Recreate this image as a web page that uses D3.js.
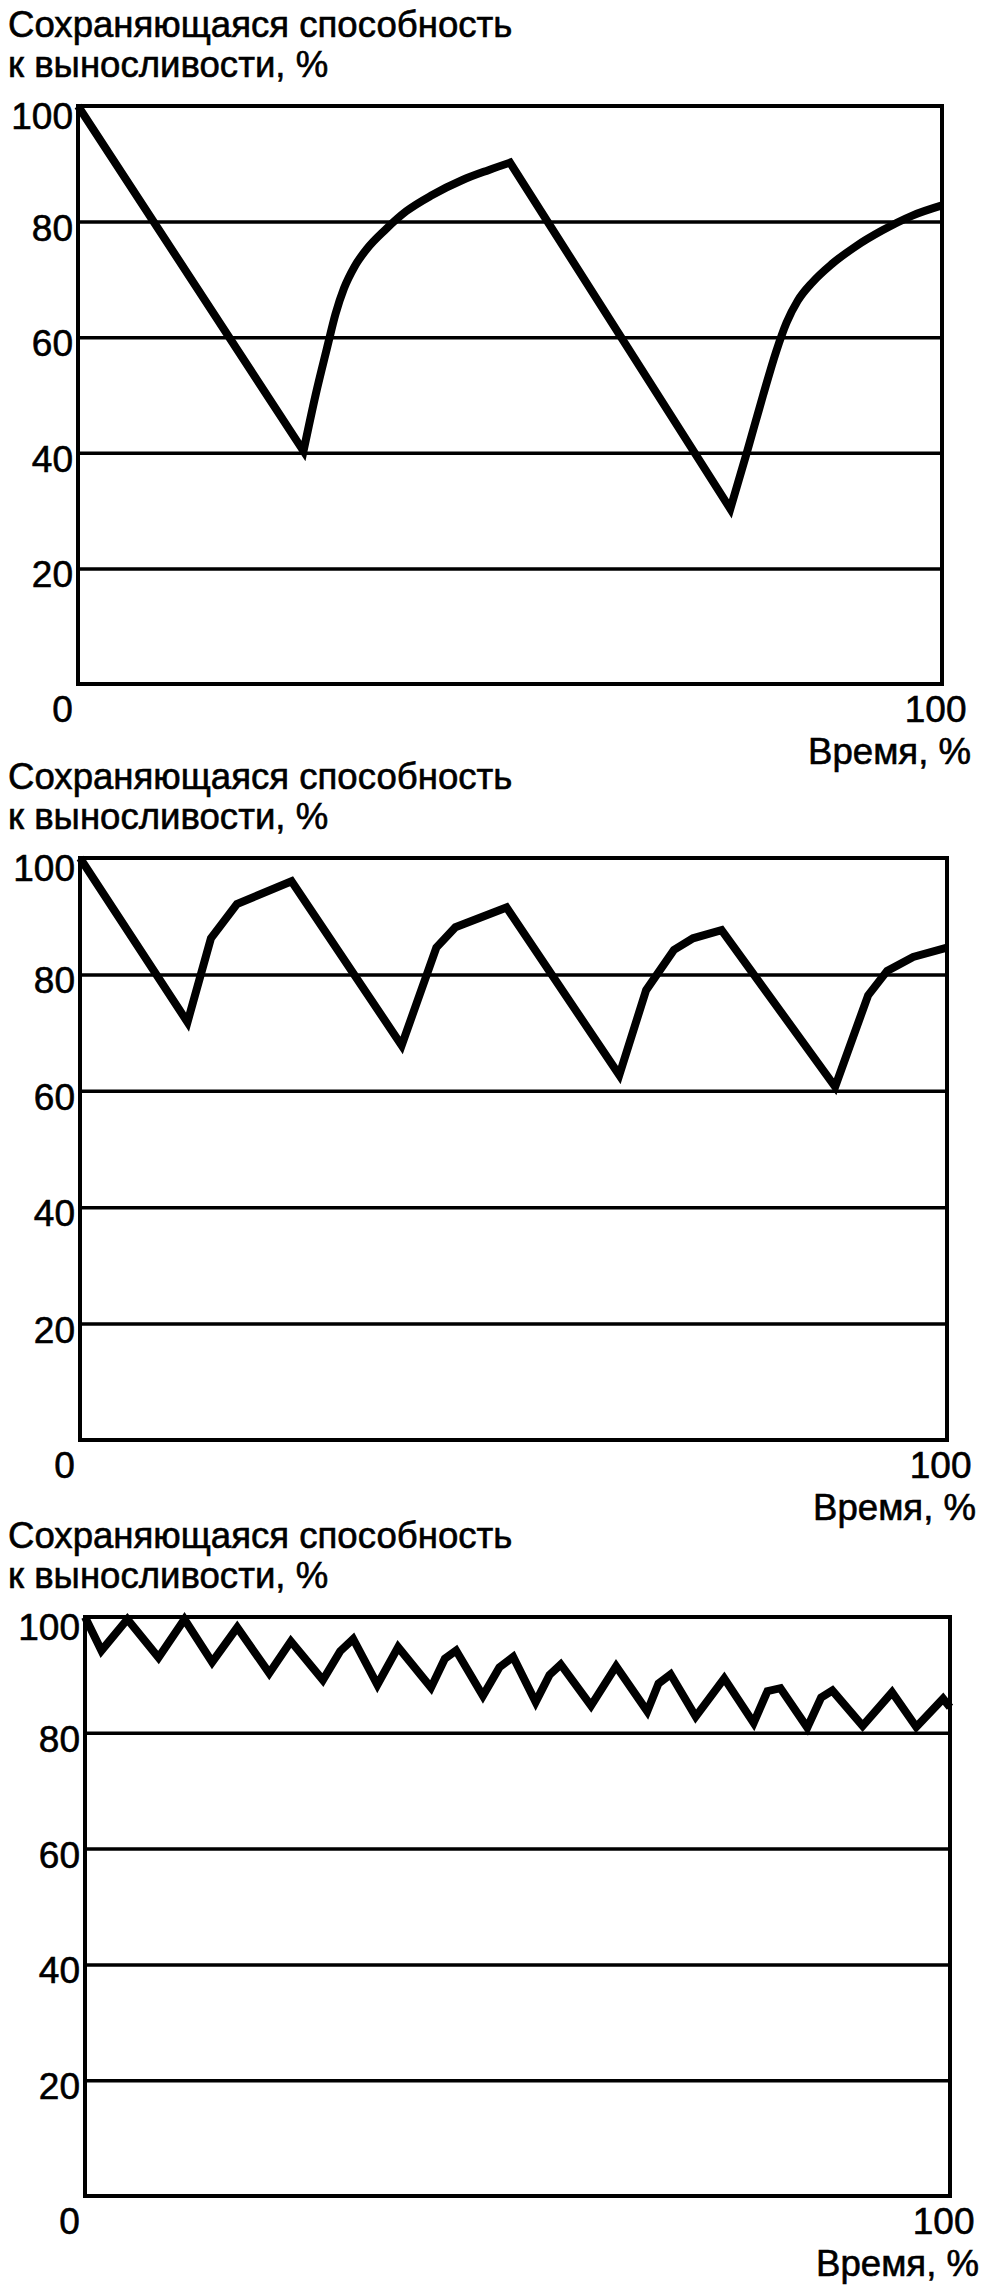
<!DOCTYPE html>
<html>
<head>
<meta charset="utf-8">
<script src="https://cdn.jsdelivr.net/npm/d3@7"></script>
<style>
    html, body { margin: 0; padding: 0; background: #fff; }
    svg { display: block; }
</style>
</head>
<body>
<div id="chart"></div>
<script>
(function(){
    'use strict';

    // tick labels / text
    var capacityTicks = [20, 40, 60, 80, 100];
    var gridValues = [20, 40, 60, 80];
    var timeTicks = [0, 100];
    var titleLines = ["Сохраняющаяся способность", "к выносливости, %"];
    var timeLabel = "Время, %";

    // panel 1: two long work phases, each followed by a recovery curve
    var p1Drop1 = [[0, 100], [26.1, 40.3]];
    var p1Rise1 = [[26.1, 40.3], [27.5, 50], [28.8, 58], [29.8, 64], [30.8, 68.5], [32, 72.2], [33.5, 75.4], [35.5, 78.5],
        [38, 81.8], [41, 84.6], [44.5, 87.2], [47.5, 88.9], [50, 90.2]];
    var p1Drop2 = [[50, 90.2], [75.5, 30.3]];
    var p1Rise2 = [[75.5, 30.3], [77.4, 40], [79.3, 50], [80.8, 57.5], [82, 62.5], [83.3, 66.3], [85, 69.5], [87.2, 72.6],
        [90, 75.7], [93, 78.4], [96.5, 81], [100, 82.8]];

    // panel 2: four shorter work phases
    var p2Line = [[0, 100], [12.4, 71.8], [15.1, 86.2], [18.1, 92.1], [24.4, 96], [37.1, 67.8], [41.1, 84.6], [43.3, 88.1],
        [49.2, 91.5], [62.2, 62.7], [65.3, 77.3], [68.5, 84.2], [70.7, 86.2], [74, 87.6], [87.1, 60.7], [90.9, 76.4],
        [93.1, 80.6], [96.1, 83], [100, 84.6]];

    // panel 3: many short work phases
    var p3Line = [[0, 100], [1.9, 94.2], [4.9, 99.6], [8.5, 93], [11.5, 99.6], [14.7, 92.2], [17.6, 98.2], [21.3, 90.3],
        [23.8, 95.8], [27.5, 89.1], [29.5, 94.1], [31, 96.2], [33.8, 88.3], [36.2, 94.8], [40, 87.8], [41.6, 92.8],
        [42.9, 94.2], [46, 86.4], [47.9, 91.3], [49.5, 93.1], [52.1, 85.3], [53.7, 90], [55, 91.8], [58.5, 84.7],
        [61.4, 91.5], [65, 83.7], [66.3, 88.5], [67.7, 90.1], [70.6, 82.8], [73.9, 89.4], [77.3, 81.7], [78.9, 87.2],
        [80.4, 87.7], [83.5, 80.9], [85.1, 86.1], [86.4, 87.3], [89.9, 81.2], [93.3, 87], [96.1, 81], [99.2, 85.9],
        [100, 84.4]];

    var panels = [
        {left: 78, right: 942, top: 106, bottom: 684,
            parts: [[p1Drop1, d3.curveLinear], [p1Rise1, d3.curveMonotoneX], [p1Drop2, d3.curveLinear], [p1Rise2, d3.curveMonotoneX]]},
        {left: 80, right: 947, top: 858, bottom: 1440, parts: [[p2Line, d3.curveLinear]]},
        {left: 85, right: 950, top: 1617, bottom: 2196, parts: [[p3Line, d3.curveLinear]]}
    ];

    var font = "'Liberation Sans', Arial, Helvetica, sans-serif";

    var svg = d3.select("#chart")
        .append("svg")
        .attr("width", 991)
        .attr("height", 2286)
        .attr("font-family", font);

    // scanned print looks a bit heavier than plain regular weight
    function inked(sel) {
        sel.attr("fill", "#000").attr("stroke", "#000").attr("stroke-width", 0.6);
    }

    panels.forEach(function(p) {
        var x = d3.scaleLinear().domain([0, 100]).range([p.left, p.right]);
        var y = d3.scaleLinear().domain([0, 100]).range([p.bottom, p.top]);
        var g = svg.append("g");

        // title (two lines)
        g.append("g").selectAll("text").data(titleLines).enter()
            .append("text")
            .attr("x", 8)
            .attr("y", function(d, i) { return p.top - 69 + i * 40; })
            .attr("font-size", 36.6)
            .call(inked)
            .text(function(d) { return d; });

        // horizontal grid lines
        g.append("g")
            .attr("transform", "translate(" + p.left + ",0)")
            .call(d3.axisLeft(y).tickValues(gridValues).tickSize(-(p.right - p.left)).tickFormat(""))
            .call(function(a) {
                a.select(".domain").remove();
                a.selectAll("line").attr("stroke", "#000").attr("stroke-width", 3.5);
            });

        // y labels
        g.append("g")
            .attr("transform", "translate(" + p.left + ",0)")
            .call(d3.axisLeft(y).tickValues(capacityTicks).tickSize(0).tickPadding(5))
            .call(function(a) {
                a.select(".domain").remove();
                a.selectAll("text")
                    .attr("font-family", font)
                    .attr("font-size", 37)
                    .call(inked)
                    .attr("dy", function(d) { return d === 100 ? "0.62em" : "0.5em"; });
            });

        // x labels
        g.append("g")
            .attr("transform", "translate(0," + p.bottom + ")")
            .call(d3.axisBottom(x).tickValues(timeTicks).tickSize(0).tickPadding(12))
            .call(function(a) {
                a.select(".domain").remove();
                a.selectAll("text")
                    .attr("font-family", font)
                    .attr("font-size", 37)
                    .call(inked)
                    .attr("text-anchor", function(d) { return d === 0 ? "middle" : "end"; })
                    .attr("x", function(d) { return d === 0 ? -16 : 24; });
            });

        g.append("text")
            .attr("x", x(100) + 29)
            .attr("y", p.bottom + 80)
            .attr("text-anchor", "end")
            .attr("font-size", 36.6)
            .call(inked)
            .text(timeLabel);

        // frame
        g.append("rect")
            .attr("x", p.left)
            .attr("y", p.top)
            .attr("width", p.right - p.left)
            .attr("height", p.bottom - p.top)
            .attr("fill", "none")
            .attr("stroke", "#000")
            .attr("stroke-width", 4);

        // data line: segments joined into one path so the corners stay sharp
        var d = p.parts.map(function(part, i) {
            var s = d3.line()
                .x(function(v) { return x(v[0]); })
                .y(function(v) { return y(v[1]); })
                .curve(part[1])(part[0]);
            return i === 0 ? s : s.replace(/^M/, "L");
        }).join("");

        g.append("path")
            .attr("d", d)
            .attr("fill", "none")
            .attr("stroke", "#000")
            .attr("stroke-width", 8)
            .attr("stroke-linejoin", "miter")
            .attr("stroke-miterlimit", 3);
    });
})()
</script>
</body>
</html>
